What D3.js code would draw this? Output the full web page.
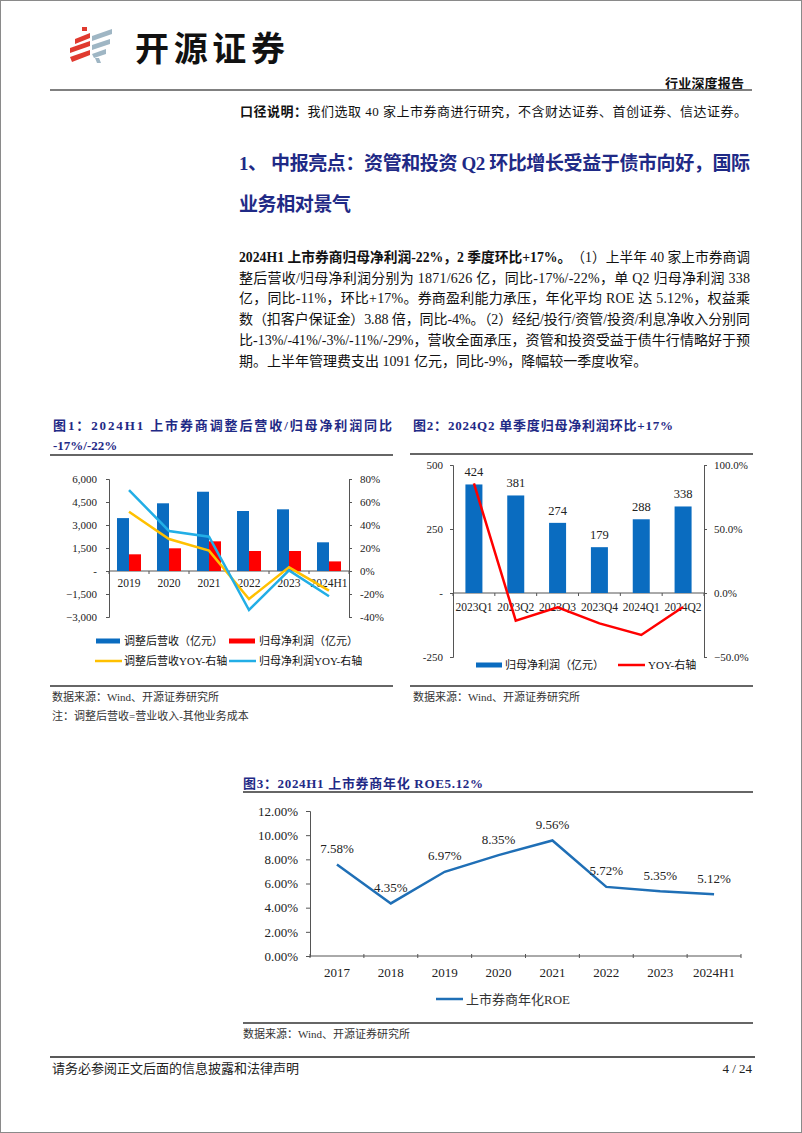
<!DOCTYPE html>
<html><head><meta charset="utf-8">
<script src="https://cdn.jsdelivr.net/npm/d3@7"></script>
<style>html,body{margin:0;padding:0;background:#fff;}svg{display:block;}text{font-variant-ligatures:none;font-feature-settings:"liga" 0,"clig" 0,"calt" 0,"dlig" 0;}</style>
</head><body>
<script>
// ---------- data ----------
const years1 = ["2019","2020","2021","2022","2023","2024H1"];
const revenue = [3450, 4415, 5170, 3913, 4022, 1871];
const netProfit = [1088, 1480, 1935, 1304, 1304, 626];
const revenueYoY = [51.6, 27.8, 17.7, -24.3, 3.2, -17];
const profitYoY = [70.4, 34.8, 29.8, -33.9, 0.5, -22];
const c1LeftTicks = [6000, 4500, 3000, 1500, 0, -1500, -3000];
const c1RightTicks = [80, 60, 40, 20, 0, -20, -40];

const quarters = ["2023Q1","2023Q2","2023Q3","2023Q4","2024Q1","2024Q2"];
const quarterProfit = [424, 381, 274, 179, 288, 338];
const quarterYoY = [85.7, -21.6, -11.2, -23.7, -32.8, -11];
const c2LeftTicks = [500, 250, 0, -250];
const c2RightTicks = [100, 50, 0, -50];

const years3 = ["2017","2018","2019","2020","2021","2022","2023","2024H1"];
const roe = [7.58, 4.35, 6.97, 8.35, 9.56, 5.72, 5.35, 5.12];
const c3Ticks = [0, 2, 4, 6, 8, 10, 12];

// ---------- setup ----------
const W = 802, H = 1133;
const FONT = "'Liberation Serif','Times New Roman','Noto Sans CJK SC',serif";
const NAVY = "#1f2a86";
const BLUE = "#0a6cc0", RED = "#ff0000", YEL = "#ffc000", CYAN = "#22aee6", ROEC = "#1f6fb6";
const svg = d3.select("body").append("svg").attr("width", W).attr("height", H)
  .attr("font-family", FONT);
svg.append("rect").attr("x",0).attr("y",0).attr("width",W).attr("height",H).attr("fill","#fff");
svg.append("rect").attr("x",0.5).attr("y",0.5).attr("width",W-1).attr("height",H-1)
  .attr("fill","none").attr("stroke","#8a8a8a");

function txt(x, y, s, o = {}) {
  const t = svg.append("text").attr("x", x).attr("y", y).text(s)
    .attr("dominant-baseline", "central")
    .attr("font-size", o.size || 13)
    .attr("fill", o.color || "#111")
    .attr("text-anchor", o.anchor || "start");
  if (o.bold) t.attr("font-weight", "bold");
  if (o.len) t.attr("textLength", o.len).attr("lengthAdjust", "spacing");
  if (o.family) t.attr("font-family", o.family);
  return t;
}
function hline(x1, x2, y, c = "#333", w = 1.5) {
  svg.append("line").attr("x1", x1).attr("x2", x2).attr("y1", y).attr("y2", y)
    .attr("stroke", c).attr("stroke-width", w);
}

// ---------- header ----------
const logo = svg.append("g");
const redP = [
  "M82,27 L87,27 L87,31 L82,31 Z",
  "M75,39 L90,33 L90,38 L75,44 Z",
  "M70,48 L90,41 L90,46 L70,53 Z",
  "M70,57 L90,50 L90,55 L72,62 Z"
];
const grayP = [
  "M92,36 L112,29 L112,34 L92,41 Z",
  "M92,45 L110,39 L110,44 L92,50 Z",
  "M92,54 L106,49 L106,54 L94,58 Z",
  "M95,58 L99,58 L101,63 L97,63 Z"
];
redP.forEach(p => logo.append("path").attr("d", p).attr("fill", "#e03a2f"));
grayP.forEach(p => logo.append("path").attr("d", p).attr("fill", "#9fb6c4"));
txt(135, 46, "开源证券", {size: 34, bold: true, color: "#111", family: "'Noto Sans CJK SC',sans-serif", len: 150});
txt(744, 83, "行业深度报告", {size: 13, bold: true, anchor: "end", len: 79});
hline(50, 752, 90, "#808080", 2);

// 口径说明
{
  const t = svg.append("text").attr("x", 240).attr("y", 111).attr("dominant-baseline","central")
    .attr("font-size", 13).attr("fill", "#111").attr("textLength", 507).attr("lengthAdjust","spacing");
  t.append("tspan").attr("font-weight","bold").text("口径说明：");
  t.append("tspan").text("我们选取 40 家上市券商进行研究，不含财达证券、首创证券、信达证券。");
}

// heading
txt(239, 163, "1、 中报亮点：资管和投资 Q2 环比增长受益于债市向好，国际", {size: 19, bold: true, color: NAVY, len: 511});
txt(239, 204, "业务相对景气", {size: 19, bold: true, color: NAVY, len: 112});

// paragraph
{
  const b = txt(239, 257, "2024H1 上市券商归母净利润-22%，2 季度环比+17%。", {size: 14, bold: true});
  const n = txt(239, 257, "（1）上半年 40 家上市券商调", {size: 14});
  const bw = b.node().getComputedTextLength();
  const nw = n.node().getComputedTextLength();
  const total = 511;
  const k = total / (bw + nw);
  const bLen = bw * k;
  b.attr("textLength", bLen).attr("lengthAdjust", "spacingAndGlyphs");
  n.attr("x", 239 + bLen).attr("textLength", total - bLen).attr("lengthAdjust", "spacingAndGlyphs");
}
const paraLines = [
  "整后营收/归母净利润分别为 1871/626 亿，同比-17%/-22%，单 Q2 归母净利润 338",
  "亿，同比-11%，环比+17%。券商盈利能力承压，年化平均 ROE 达 5.12%，权益乘",
  "数（扣客户保证金）3.88 倍，同比-4%。（2）经纪/投行/资管/投资/利息净收入分别同",
  "比-13%/-41%/-3%/-11%/-29%，营收全面承压，资管和投资受益于债牛行情略好于预"
];
paraLines.forEach((l, i) => txt(239, 278 + i * 20.8, l, {size: 14, len: 511}));
txt(239, 361, "期。上半年管理费支出 1091 亿元，同比-9%，降幅较一季度收窄。", {size: 14});

// ---------- chart 1 ----------
txt(53, 425, "图1：2024H1  上市券商调整后营收/归母净利润同比", {size: 13, bold: true, color: NAVY, len: 339});
txt(53, 445, "-17%/-22%", {size: 13, bold: true, color: NAVY});
hline(50, 393, 455, "#333", 1.5);

const x1 = d3.scaleBand().domain(years1).range([109, 349]);
const y1L = d3.scaleLinear().domain([-3000, 6000]).range([617, 479]);
const y1R = d3.scaleLinear().domain([-40, 80]).range([617, 479]);
const acct = v => v === 0 ? "-" : d3.format(",")(v);
const AX = "#555";

function styleAxis(g, size) {
  g.attr("font-family", FONT).attr("font-size", size);
  g.selectAll("text").attr("fill", "#222");
  g.selectAll("line,path").attr("stroke", AX);
}
const g1L = svg.append("g").attr("transform", "translate(109,0)")
  .call(d3.axisLeft(y1L).tickValues(c1LeftTicks).tickFormat(acct).tickSize(3).tickSizeOuter(3).tickPadding(9));
styleAxis(g1L, 11);
const g1R = svg.append("g").attr("transform", "translate(349,0)")
  .call(d3.axisRight(y1R).tickValues(c1RightTicks).tickFormat(d => d + "%").tickSize(3).tickSizeOuter(3).tickPadding(8));
styleAxis(g1R, 11);

{
  const y0 = y1L(0);
  const g = svg.append("g");
  g.append("line").attr("x1", 109).attr("x2", 349).attr("y1", y0).attr("y2", y0).attr("stroke", AX);
  const bounds = years1.map(d => x1(d)).concat([x1.range()[1]]);
  g.selectAll("line.t").data(bounds).join("line").attr("class","t")
    .attr("x1", d => d).attr("x2", d => d).attr("y1", y0).attr("y2", y0 + 3).attr("stroke", AX);
  g.selectAll("text").data(years1).join("text")
    .attr("x", d => x1(d) + x1.bandwidth() / 2).attr("y", y0 + 12)
    .attr("text-anchor", "middle").attr("dominant-baseline", "central")
    .attr("font-size", 11.5).attr("fill", "#222").text(d => d);
}
const bw1 = 12;
svg.append("g").selectAll("rect").data(years1).join("rect")
  .attr("x", d => x1(d) + x1.bandwidth() / 2 - bw1).attr("width", bw1)
  .attr("y", (d, i) => y1L(revenue[i])).attr("height", (d, i) => y1L(0) - y1L(revenue[i]))
  .attr("fill", BLUE);
svg.append("g").selectAll("rect").data(years1).join("rect")
  .attr("x", d => x1(d) + x1.bandwidth() / 2).attr("width", bw1)
  .attr("y", (d, i) => y1L(netProfit[i])).attr("height", (d, i) => y1L(0) - y1L(netProfit[i]))
  .attr("fill", RED);
const line1 = arr => d3.line().x((d, i) => x1(years1[i]) + x1.bandwidth() / 2).y(d => y1R(d))(arr);
svg.append("path").attr("d", line1(revenueYoY)).attr("fill", "none").attr("stroke", YEL).attr("stroke-width", 2.5);
svg.append("path").attr("d", line1(profitYoY)).attr("fill", "none").attr("stroke", CYAN).attr("stroke-width", 2.5);

svg.append("rect").attr("x", 96).attr("y", 638.5).attr("width", 24).attr("height", 5).attr("fill", BLUE);
txt(124, 641, "调整后营收（亿元）", {size: 11});
svg.append("rect").attr("x", 229).attr("y", 638.5).attr("width", 26).attr("height", 5).attr("fill", RED);
txt(259, 641, "归母净利润（亿元）", {size: 11});
svg.append("line").attr("x1", 95).attr("x2", 122).attr("y1", 661).attr("y2", 661).attr("stroke", YEL).attr("stroke-width", 2.5);
txt(124, 661, "调整后营收YOY-右轴", {size: 11});
svg.append("line").attr("x1", 229).attr("x2", 256).attr("y1", 661).attr("y2", 661).attr("stroke", CYAN).attr("stroke-width", 2.5);
txt(259, 661, "归母净利润YOY-右轴", {size: 11});

hline(50, 393, 686, "#333", 1.5);
txt(52, 697, "数据来源：Wind、开源证券研究所", {size: 11, color: "#333"});
txt(52, 716, "注：调整后营收=营业收入-其他业务成本", {size: 11, color: "#333"});

// ---------- chart 2 ----------
txt(413, 425, "图2：2024Q2 单季度归母净利润环比+17%", {size: 13, bold: true, color: NAVY, len: 260});
hline(410, 753, 454, "#333", 1.5);

const x2 = d3.scaleBand().domain(quarters).range([453, 704]);
const y2L = d3.scaleLinear().domain([-250, 500]).range([657, 465]);
const y2R = d3.scaleLinear().domain([-50, 100]).range([657, 465]);
const g2L = svg.append("g").attr("transform", "translate(453,0)")
  .call(d3.axisLeft(y2L).tickValues(c2LeftTicks).tickFormat(v => v === 0 ? "-" : String(v)).tickSize(3).tickSizeOuter(3).tickPadding(7));
styleAxis(g2L, 11);
const g2R = svg.append("g").attr("transform", "translate(704,0)")
  .call(d3.axisRight(y2R).tickValues(c2RightTicks).tickFormat(v => d3.format(".1f")(v) + "%").tickSize(3).tickSizeOuter(3).tickPadding(7));
styleAxis(g2R, 11);
{
  const y0 = y2L(0);
  const g = svg.append("g");
  g.append("line").attr("x1", 453).attr("x2", 704).attr("y1", y0).attr("y2", y0).attr("stroke", AX);
  const bounds = quarters.map(d => x2(d)).concat([x2.range()[1]]);
  g.selectAll("line.t").data(bounds).join("line").attr("class","t")
    .attr("x1", d => d).attr("x2", d => d).attr("y1", y0).attr("y2", y0 + 3).attr("stroke", AX);
  g.selectAll("text").data(quarters).join("text")
    .attr("x", d => x2(d) + x2.bandwidth() / 2).attr("y", y0 + 14)
    .attr("text-anchor", "middle").attr("dominant-baseline", "central")
    .attr("font-size", 11.5).attr("fill", "#222").text(d => d);
}
const bw2 = 17;
svg.append("g").selectAll("rect").data(quarters).join("rect")
  .attr("x", d => x2(d) + x2.bandwidth() / 2 - bw2 / 2).attr("width", bw2)
  .attr("y", (d, i) => y2L(quarterProfit[i])).attr("height", (d, i) => y2L(0) - y2L(quarterProfit[i]))
  .attr("fill", BLUE);
svg.append("g").selectAll("text").data(quarters).join("text")
  .attr("x", d => x2(d) + x2.bandwidth() / 2).attr("y", (d, i) => y2L(quarterProfit[i]) - 12)
  .attr("text-anchor", "middle").attr("dominant-baseline", "central")
  .attr("font-size", 12.5).attr("fill", "#222").text((d, i) => quarterProfit[i]);
svg.append("path")
  .attr("d", d3.line().x((d, i) => x2(quarters[i]) + x2.bandwidth() / 2).y(d => y2R(d))(quarterYoY))
  .attr("fill", "none").attr("stroke", RED).attr("stroke-width", 2.5);
svg.append("rect").attr("x", 476).attr("y", 662.5).attr("width", 26).attr("height", 5).attr("fill", BLUE);
txt(505, 665, "归母净利润（亿元）", {size: 11});
svg.append("line").attr("x1", 618).attr("x2", 645).attr("y1", 665).attr("y2", 665).attr("stroke", RED).attr("stroke-width", 2.5);
txt(648, 665, "YOY-右轴", {size: 11});
hline(410, 753, 686, "#333", 1.5);
txt(413, 697, "数据来源：Wind、开源证券研究所", {size: 11, color: "#333"});

// ---------- chart 3 ----------
txt(243, 783, "图3：2024H1 上市券商年化 ROE5.12%", {size: 13, bold: true, color: NAVY, len: 240});
hline(243, 753, 792, "#333", 1.5);
const x3 = d3.scaleBand().domain(years3).range([310, 741]);
const y3 = d3.scaleLinear().domain([0, 12]).range([956, 811]);
const g3 = svg.append("g").attr("transform", "translate(310,0)")
  .call(d3.axisLeft(y3).tickValues(c3Ticks).tickFormat(v => d3.format(".2f")(v) + "%").tickSize(4).tickSizeOuter(4).tickPadding(8));
styleAxis(g3, 13);
{
  const y0 = y3(0);
  const g = svg.append("g");
  g.append("line").attr("x1", 310).attr("x2", 741).attr("y1", y0).attr("y2", y0).attr("stroke", AX);
  const bounds = years3.map(d => x3(d)).concat([x3.range()[1]]);
  g.selectAll("line.t").data(bounds).join("line").attr("class","t")
    .attr("x1", d => d).attr("x2", d => d).attr("y1", y0 - 2).attr("y2", y0 + 2).attr("stroke", AX);
  g.selectAll("text").data(years3).join("text")
    .attr("x", d => x3(d) + x3.bandwidth() / 2).attr("y", y0 + 16)
    .attr("text-anchor", "middle").attr("dominant-baseline", "central")
    .attr("font-size", 13).attr("fill", "#222").text(d => d);
}
svg.append("path")
  .attr("d", d3.line().x((d, i) => x3(years3[i]) + x3.bandwidth() / 2).y(d => y3(d))(roe))
  .attr("fill", "none").attr("stroke", ROEC).attr("stroke-width", 2.5);
svg.append("g").selectAll("text").data(years3).join("text")
  .attr("x", d => x3(d) + x3.bandwidth() / 2).attr("y", (d, i) => y3(roe[i]) - 16)
  .attr("text-anchor", "middle").attr("dominant-baseline", "central")
  .attr("font-size", 13).attr("fill", "#222").text((d, i) => d3.format(".2f")(roe[i]) + "%");
svg.append("line").attr("x1", 436).attr("x2", 463).attr("y1", 999).attr("y2", 999).attr("stroke", ROEC).attr("stroke-width", 2.5);
txt(466, 999, "上市券商年化ROE", {size: 13, color: "#333"});
hline(243, 753, 1023, "#333", 1.5);
txt(243, 1034, "数据来源：Wind、开源证券研究所", {size: 11, color: "#333"});

// ---------- footer ----------
hline(50, 755, 1057, "#222", 1.5);
txt(52, 1068, "请务必参阅正文后面的信息披露和法律声明", {size: 13, color: "#222"});
txt(752, 1068, "4 / 24", {size: 13, color: "#222", anchor: "end"});
</script>
</body></html>
